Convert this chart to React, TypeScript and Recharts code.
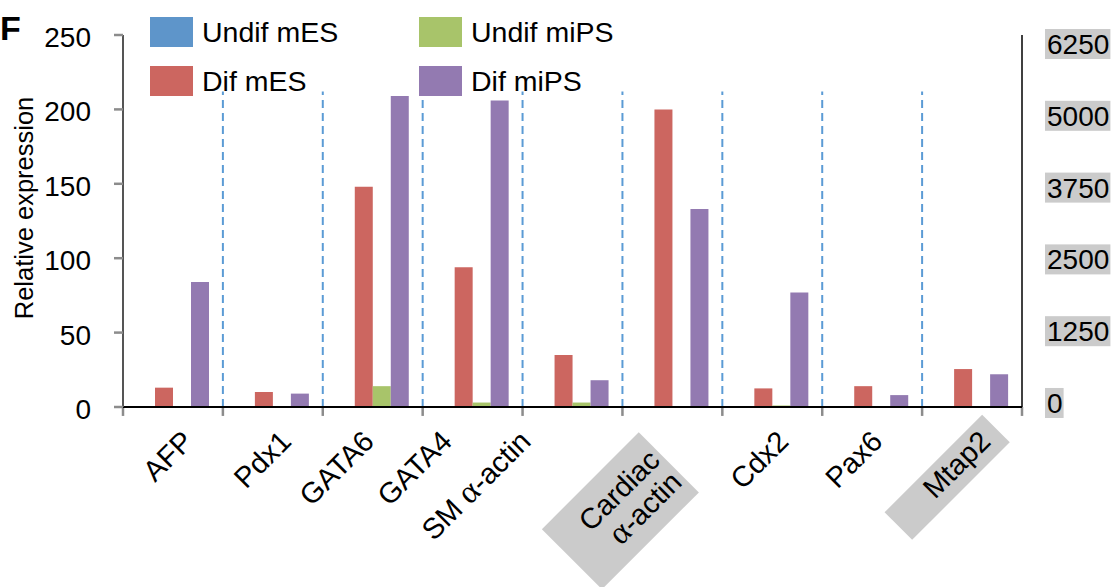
import { ComposedChart, Bar, XAxis, YAxis, ReferenceLine } from "recharts"

const genes = ["AFP", "Pdx1", "GATA6", "GATA4", "SM α-actin", "Cardiac α-actin", "Cdx2", "Pax6", "Mtap2"]
const undifMES = [0, 0, 0, 0, 0, 0, 0, 0, 0]
const difMES = [13, 10, 148, 94, 35, 200, 12.5, 14, 25.5]
const undifMiPS = [0, 0, 14, 3, 3, 0, 1, 0, 0]
const difMiPS = [84, 9, 209, 206, 18, 133, 77, 8, 22]

const leftTicks = [0, 50, 100, 150, 200, 250]
const rightTicks = [0, 1250, 2500, 3750, 5000, 6250]
const dividerTop = 212
const tickDepth = -6
const boxedGenes = ["Cardiac α-actin", "Mtap2"]

// the labels in the figure were hand placed, so each one gets a small nudge
const labelNudge: Record<string, number> = {
  AFP: 22,
  Pdx1: 20,
  GATA6: 3,
  GATA4: -19,
  "SM α-actin": -40,
  "Cardiac α-actin": 0,
  Cdx2: 18,
  Pax6: 12,
  Mtap2: 20,
}

const series = [
  { key: "undifMES", name: "Undif mES", color: "#5E95CA" },
  { key: "difMES", name: "Dif mES", color: "#CC6660" },
  { key: "undifMiPS", name: "Undif miPS", color: "#A8C46A" },
  { key: "difMiPS", name: "Dif miPS", color: "#937AB1" },
]

const data = genes.map((gene, i) => ({
  gene,
  undifMES: undifMES[i],
  difMES: difMES[i],
  undifMiPS: undifMiPS[i],
  difMiPS: difMiPS[i],
}))

const FONT = "'Liberation Sans', Arial, sans-serif"
const LABEL_SIZE = 29

// greek letter is set in a serif face like in the original
function labelParts(text: string) {
  const parts = text.split("α")
  return parts.map((p, i) => (
    <tspan key={i}>
      {i > 0 && <tspan fontFamily="'Liberation Serif', serif" fontSize={33}>α</tspan>}
      {p}
    </tspan>
  ))
}

function GeneTick(props: any) {
  const { x, y, payload } = props
  const gene: string = payload.value
  const boxed = boxedGenes.includes(gene)
  const nudge = labelNudge[gene] ?? 16
  if (gene.startsWith("Cardiac")) {
    const cut = gene.indexOf(" ")
    return (
      <g transform={`translate(${x - 11},${y + 55}) rotate(-45)`}>
        <rect x={-132} y={-37} width={137} height={85} fill="#cbcbcb" />
        <text textAnchor="end" fontSize={LABEL_SIZE} fontFamily={FONT} fill="#000">
          <tspan x={0} dy={0}>{gene.slice(0, cut)}</tspan>
          <tspan x={0} dy={31}>{labelParts(gene.slice(cut + 1))}</tspan>
        </text>
      </g>
    )
  }
  return (
    <g transform={`translate(${x + nudge},${y + 36}) rotate(-45)`}>
      {boxed && <rect x={-125} y={-27} width={138} height={39} fill="#cbcbcb" />}
      <text textAnchor="end" fontSize={LABEL_SIZE} fontFamily={FONT} fill="#000">
        {labelParts(gene)}
      </text>
    </g>
  )
}

function RightTick(props: any) {
  const { x, y, payload } = props
  const label = String(payload.value)
  const w = label.length * 15.6 + 3
  return (
    <g>
      <rect x={x} y={y - 15} width={w} height={30} fill="#cbcbcb" />
      <text x={x + 2} y={y} dy="0.355em" fontSize={28} fontFamily={FONT} fill="#000">
        {label}
      </text>
    </g>
  )
}

export default function App() {
  return (
    <div style={{ position: "absolute", left: 0, top: 0, width: 1116, height: 587, background: "#fff" }}>
      <ComposedChart
        width={1116}
        height={587}
        data={data}
        margin={{ top: 35, right: 0, left: 0, bottom: 0 }}
        barCategoryGap={14}
        barGap={0}
      >
        <XAxis
          dataKey="gene"
          interval={0}
          tickLine={false}
          tickSize={0}
          tickMargin={0}
          tick={<GeneTick />}
          axisLine={{ stroke: "#000", strokeWidth: 2 }}
          height={180}
        />
        <YAxis
          yAxisId="left"
          domain={[0, 250]}
          ticks={leftTicks}
          interval={0}
          width={123}
          tickSize={9}
          tickMargin={23}
          tickLine={{ stroke: "#8c8c8c", strokeWidth: 2.5 }}
          axisLine={{ stroke: "#555", strokeWidth: 2 }}
          tick={{ fill: "#000", fontSize: 28, fontFamily: FONT, dy: 2 }}
        />
        <YAxis
          yAxisId="right"
          orientation="right"
          domain={[-70, 6407]}
          allowDataOverflow
          ticks={rightTicks}
          interval={0}
          width={94}
          tickLine={false}
          tickSize={0}
          tickMargin={23}
          axisLine={{ stroke: "#000", strokeWidth: 1.5 }}
          tick={<RightTick />}
        />
        {/* dashed separators between the genes */}
        {genes.slice(1).map((g) => (
          <ReferenceLine
            key={`div-${g}`}
            yAxisId="left"
            position="start"
            segment={[
              { x: g, y: 0 },
              { x: g, y: dividerTop },
            ]}
            stroke="#5B9BD5"
            strokeWidth={2}
            strokeDasharray="8 5"
            ifOverflow="visible"
          />
        ))}
        {/* grey tick marks on the category boundaries */}
        {genes.map((g) => (
          <ReferenceLine
            key={`tick-${g}`}
            yAxisId="left"
            position="start"
            segment={[
              { x: g, y: 0 },
              { x: g, y: tickDepth },
            ]}
            stroke="#8c8c8c"
            strokeWidth={2.5}
            ifOverflow="visible"
          />
        ))}
        <ReferenceLine
          yAxisId="left"
          position="end"
          segment={[
            { x: genes[genes.length - 1], y: 0 },
            { x: genes[genes.length - 1], y: tickDepth },
          ]}
          stroke="#8c8c8c"
          strokeWidth={2.5}
          ifOverflow="visible"
        />
        {series.map((s) => (
          <Bar
            key={s.key}
            dataKey={s.key}
            name={s.name}
            fill={s.color}
            yAxisId="left"
            isAnimationActive={false}
          />
        ))}
      </ComposedChart>
      <svg width={1116} height={587} style={{ position: "absolute", left: 0, top: 0, pointerEvents: "none" }}>
        <text x={0} y={40} fontSize={34} fontWeight="bold" fontFamily={FONT} fill="#000">
          F
        </text>
        <text
          transform="translate(33,208) rotate(-90)"
          textAnchor="middle"
          fontSize={25.5}
          fontFamily={FONT}
          fill="#000"
        >
          Relative expression
        </text>
        {series.map((s, i) => {
          const col = Math.floor(i / 2)
          const row = i % 2
          const sx = col === 0 ? 150 : 419
          const sy = row === 0 ? 17 : 66
          return (
            <g key={s.key}>
              <rect x={sx} y={sy} width={43} height={30} fill={s.color} />
              <text x={sx + 52} y={sy + 25} fontSize={28.5} fontFamily={FONT} fill="#000">
                {s.name}
              </text>
            </g>
          )
        })}
      </svg>
    </div>
  )
}
